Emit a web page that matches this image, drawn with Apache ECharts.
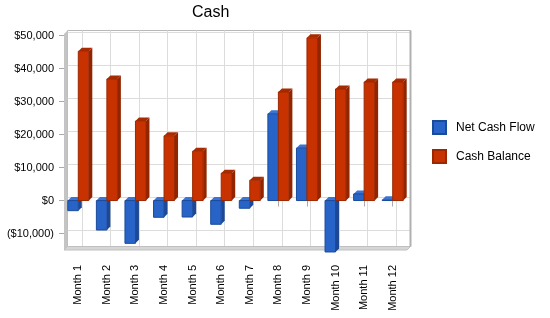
<!DOCTYPE html>
<html>
<head>
<meta charset="utf-8">
<script src="https://cdn.jsdelivr.net/npm/echarts@6/dist/echarts.min.js"></script>
<style>
  html, body { margin: 0; padding: 0; background: #fff; }
  #chart { width: 550px; height: 318px; }
</style>
</head>
<body>
<div id="chart"></div>
<script>
// data
const categories = ['Month 1', 'Month 2', 'Month 3', 'Month 4', 'Month 5', 'Month 6',
  'Month 7', 'Month 8', 'Month 9', 'Month 10', 'Month 11', 'Month 12'];
const netCashFlow = [-3070, -8940, -12980, -5080, -5000, -7200, -2340, 26300, 15900, -15600, 2000, 200];
const cashBalance = [45260, 36870, 24100, 19630, 14980, 8300, 6170, 32920, 49330, 33830, 35960, 35960];
const yTicks = [-10000, 0, 10000, 20000, 30000, 40000, 50000];

const FONT = '"Liberation Sans", Arial, sans-serif';
const D = 3.5; // depth of the fake 3d

// front plane (bars, labels) and back plane (walls, grid lines)
const front = { left: 64, right: 143, top: 34, bottom: 68 };
const back = { left: 64 + D, right: 143 - D, top: 34 - D, bottom: 68 + D };

const blue = { front: '#2864c8', side: '#1c4896', top: '#3c74d2', edge: '#1a4a9c' };
const red = { front: '#c83200', side: '#922400', top: '#a82a00', edge: '#9a2800' };

function money(v) {
  if (v === 0) return '$0';
  const s = '$' + Math.abs(v).toLocaleString('en-US');
  return v < 0 ? '(' + s + ')' : s;
}

// draws a box: front face, right side and top
function barRenderer(leftSide, c) {
  return function (params, api) {
    const idx = api.value(0);
    const v = api.value(1);
    const base = api.coord([idx, 0]);
    const end = api.coord([idx, v]);
    const w = 10.5;
    const x0 = leftSide ? base[0] - w : base[0];
    const x1 = x0 + w;
    const yTop = Math.min(base[1], end[1]);
    const yBot = Math.max(base[1], end[1]);
    return {
      type: 'group',
      children: [
        { type: 'polygon', shape: { points: [[x1, yTop], [x1 + D, yTop - D], [x1 + D, yBot - D], [x1, yBot]] },
          style: { fill: c.side } },
        { type: 'polygon', shape: { points: [[x0, yTop], [x1, yTop], [x1 + D, yTop - D], [x0 + D, yTop - D]] },
          style: { fill: c.top } },
        { type: 'rect', shape: { x: x0, y: yTop, width: w, height: yBot - yTop },
          style: { fill: c.front, stroke: c.edge, lineWidth: 1 } }
      ]
    };
  };
}

const chart = echarts.init(document.getElementById('chart'));

const W = 550, H = 318;
const fx0 = front.left, fx1 = W - front.right, fy0 = front.top, fy1 = H - front.bottom;

const option = {
  backgroundColor: '#fff',
  animation: false,
  title: {
    text: 'Cash',
    left: 192,
    top: 5,
    padding: 0,
    textStyle: { fontFamily: FONT, fontSize: 16, fontWeight: 'normal', color: '#000' }
  },
  legend: {
    orient: 'vertical',
    left: 432,
    top: 120,
    padding: 0,
    itemWidth: 13,
    itemHeight: 13,
    itemGap: 14,
    icon: 'rect',
    data: ['Net Cash Flow', 'Cash Balance'],
    textStyle: { fontFamily: FONT, fontSize: 12, color: '#000', padding: [0, 0, 0, 5] }
  },
  grid: [
    { left: back.left, right: back.right, top: back.top, bottom: back.bottom,
      show: true, borderColor: '#b8b8b8', borderWidth: 1 },
    { left: front.left, right: front.right, top: front.top, bottom: front.bottom }
  ],
  xAxis: [
    { // back wall vertical lines, through category centres
      gridIndex: 0, type: 'value', min: 0, max: 24, interval: 1,
      axisLine: { show: false }, axisTick: { show: false }, axisLabel: { show: false },
      splitLine: { show: true, lineStyle: { color: ['rgba(0,0,0,0)', '#dcdcdc'] } }
    },
    {
      gridIndex: 1, type: 'category', data: categories,
      axisLine: { show: false },
      axisTick: { show: true, alignWithLabel: true, length: 6, lineStyle: { color: '#aaa' } },
      axisLabel: { rotate: 90, interval: 0, margin: 15, fontFamily: FONT, fontSize: 11, color: '#000' },
      splitLine: { show: false }
    }
  ],
  yAxis: [
    {
      gridIndex: 0, type: 'value', min: -15000, max: 50500, interval: 5000,
      axisLine: { show: false }, axisTick: { show: false }, axisLabel: { show: false },
      splitLine: { show: true, lineStyle: { color: ['rgba(0,0,0,0)', '#dcdcdc'] } }
    },
    {
      gridIndex: 1, type: 'value', min: -15000, max: 50500,
      axisLine: { show: false },
      axisTick: { show: true, length: 5, customValues: yTicks, lineStyle: { color: '#aaa' } },
      axisLabel: { customValues: yTicks, margin: 10, formatter: money, fontFamily: FONT, fontSize: 11, color: '#000' },
      splitLine: { show: false }
    }
  ],
  graphic: [
    { type: 'polygon', z: 1, silent: true,
      shape: { points: [[fx0, fy0], [fx0 + D, fy0 - D], [fx0 + D, fy1 - D], [fx0, fy1]] },
      style: { fill: '#c4c4c4' } },
    { type: 'polygon', z: 1, silent: true,
      shape: { points: [[fx0, fy1], [fx0 + D, fy1 - D], [fx1 + D, fy1 - D], [fx1, fy1]] },
      style: { fill: '#d6d6d6', stroke: '#c0c0c0', lineWidth: 1 } },
    { type: 'line', z: 1, silent: true,
      shape: { x1: fx1 + D, y1: fy0 - D, x2: fx1 + D, y2: fy1 - D },
      style: { stroke: '#b0b0b0', lineWidth: 2 } }
  ],
  series: [
    {
      name: 'Net Cash Flow', type: 'custom', xAxisIndex: 1, yAxisIndex: 1,
      itemStyle: { color: blue.front, borderColor: blue.edge, borderWidth: 1 },
      renderItem: barRenderer(true, blue),
      encode: { x: 0, y: 1 },
      data: netCashFlow.map((v, i) => [i, v])
    },
    {
      name: 'Cash Balance', type: 'custom', xAxisIndex: 1, yAxisIndex: 1,
      itemStyle: { color: red.front, borderColor: red.edge, borderWidth: 1 },
      renderItem: barRenderer(false, red),
      encode: { x: 0, y: 1 },
      data: cashBalance.map((v, i) => [i, v])
    }
  ]
};
chart.setOption(option);
</script>
</body>
</html>
